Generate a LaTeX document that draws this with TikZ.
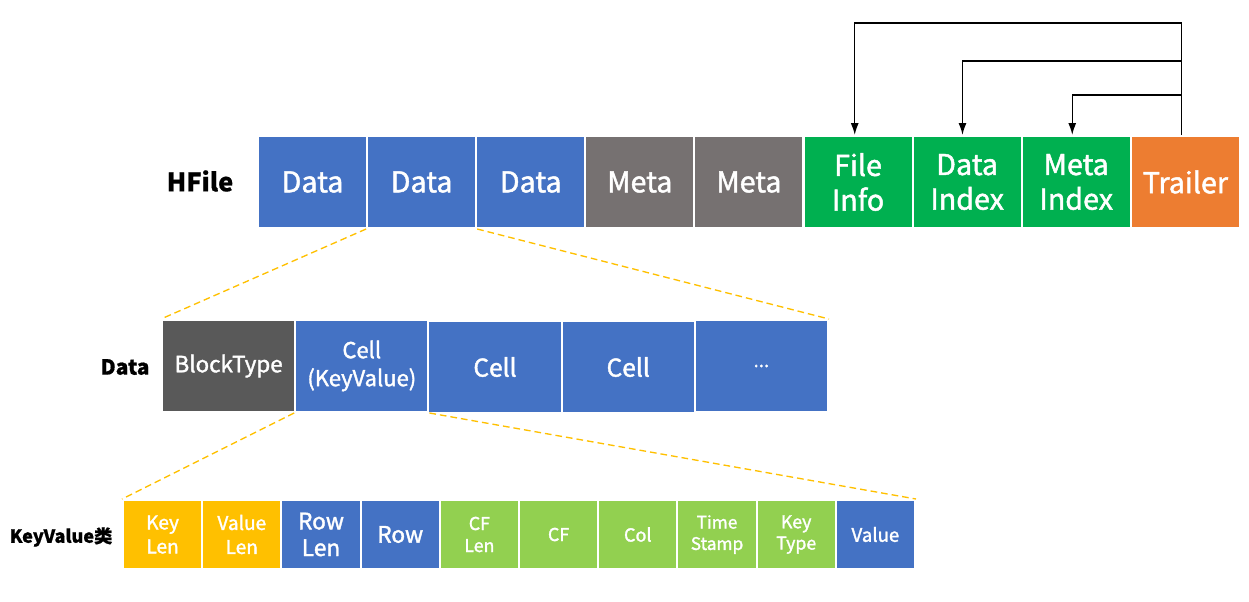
\documentclass[tikz,border=0pt]{standalone}
\usepackage{fontspec}
\setmainfont{Noto Sans CJK SC}[RawFeature={embolden=1.6}, BoldFeatures={RawFeature={embolden=0.5}}]
\usetikzlibrary{arrows.meta, positioning}
\definecolor{datablue}{RGB}{68,114,196}
\definecolor{metagray}{RGB}{118,113,113}
\definecolor{idxgreen}{RGB}{0,176,80}
\definecolor{trailorange}{RGB}{237,125,49}
\definecolor{blockgray}{RGB}{89,89,89}
\definecolor{lengold}{RGB}{255,192,0}
\definecolor{keygreen}{RGB}{146,208,80}
\definecolor{zoomgold}{RGB}{255,192,0}

\begin{document}
\begin{tikzpicture}[x=0.75pt, y=-0.75pt,
    seg/.style={draw=white, line width=1.5pt, text=white, align=center, inner sep=0pt},
    hseg/.style={seg, minimum width=81.8pt, minimum height=69pt, font=\fontsize{21.5}{26}\selectfont},
    dseg/.style={seg, minimum width=99.9pt, minimum height=69pt},
    kseg/.style={seg, minimum width=59.4pt, minimum height=51.75pt},
    lbl/.style={font=\bfseries, text=black},
    arr/.style={-{Latex[length=9pt, width=6pt]}, line width=1.1pt, black},
    zoom/.style={zoomgold, dashed, dash pattern=on 5pt off 3pt, line width=1pt}
]
\useasboundingbox (0,0) rectangle (1249,601);

% HFile row
\foreach \txt/\col [count=\i] in {Data/datablue, Data/datablue, Data/datablue, Meta/metagray, Meta/metagray, {File\\Info}/idxgreen, {Data\\Index}/idxgreen, {Meta\\Index}/idxgreen, Trailer/trailorange}
    \node[hseg, fill=\col] (h\i) at ({258+109.1*(\i-0.5)},182) {\txt};
\node[lbl, font=\fontsize{19}{21}\selectfont\bfseries] (hlabel) at (200,181) {HFile};

% trailer pointers
\draw[arr] ([xshift=-3pt]h9.north) -- ++(0,-112) -| ([xshift=-2.5pt]h6.north);
\draw[arr] ([xshift=-3pt]h9.north) ++(0,-74) -| ([xshift=-3.5pt]h7.north);
\draw[arr] ([xshift=-3pt]h9.north) ++(0,-40) -| ([xshift=-3pt]h8.north);

% data block row
\node[dseg, fill=blockgray, font=\fontsize{16.8}{20}\selectfont] (d1) at ({162+133.2*0.5},366) {BlockType};
\node[dseg, fill=datablue, font=\fontsize{16.5}{21}\selectfont] (d2) at ({162+133.2*1.5},366) {Cell\\(KeyValue)};
\node[dseg, fill=datablue, font=\fontsize{18.4}{21}\selectfont] (d3) at ({162+133.2*2.5},367) {Cell};
\node[dseg, fill=datablue, font=\fontsize{18.4}{21}\selectfont] (d4) at ({162+133.2*3.5},367) {Cell};
\node[dseg, fill=datablue, font=\fontsize{14}{16}\selectfont] (d5) at ({162+133.2*4.5},366) {...};
\node[lbl, font=\fontsize{15.7}{18}\selectfont\bfseries] (dlabel) at (125,367) {Data};

% key value row
\foreach \txt/\col/\fs/\bs [count=\i] in {{Key\\Len}/lengold/14.3/18, {Value\\Len}/lengold/14.3/18, {Row\\Len}/datablue/17/20, Row/datablue/17/20, {CF\\Len}/keygreen/13.3/16.5, CF/keygreen/13.3/16.5, Col/keygreen/13.5/16.5, {Time\\Stamp}/keygreen/13/16, {Key\\Type}/keygreen/13.3/16, Value/datablue/14/16}
    \node[kseg, fill=\col, font=\fontsize{\fs}{\bs}\selectfont] (k\i) at ({123+79.2*(\i-0.5)},534.5) {\txt};
\node[lbl, font=\fontsize{13.6}{16}\selectfont\bfseries] (klabel) at (61,537) {KeyValue类};

% zoom lines
\draw[zoom] (h2.south west) -- (d1.north west);
\draw[zoom] (h2.south east) -- (d5.north east);
\draw[zoom] (d2.south west) -- (k1.north west);
\draw[zoom] (d2.south east) -- (k10.north east);
\end{tikzpicture}
\end{document}
